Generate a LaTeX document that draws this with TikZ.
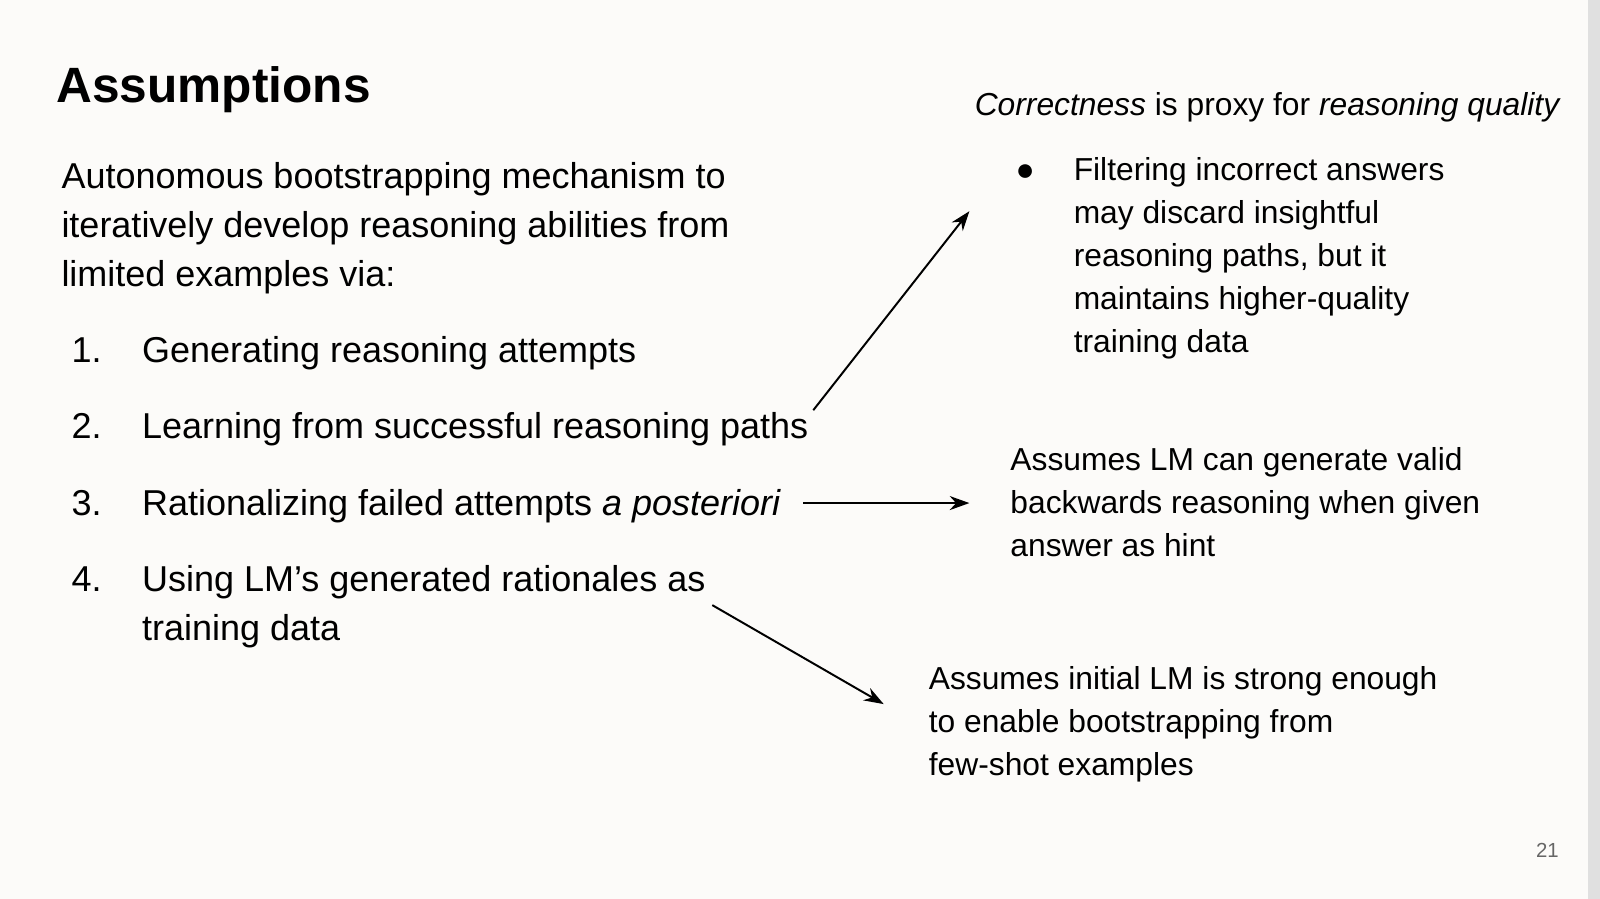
\documentclass[tikz,border=0pt]{standalone}
\usepackage{fontspec}
\setmainfont{Liberation Sans}
\usetikzlibrary{arrows.meta}
\definecolor{slidebg}{HTML}{FCFBF9}
\tikzset{
  txt/.style={anchor=base west, inner sep=0pt},
  body/.style={txt, font=\fontsize{25.6}{31}\selectfont},
  note/.style={txt, font=\fontsize{22.6}{27}\selectfont},
  pointer/.style={-{Stealth[length=14pt,width=10pt]}, line width=1.4pt}
}
\begin{document}
\begin{tikzpicture}[x=0.02551cm, y=-0.02551cm]
\fill[slidebg] (0,0) rectangle (1568,881);
\fill[black!12] (1556,0) rectangle (1568,881);
\useasboundingbox (0,0) rectangle (1568,881);

% title and intro
\node[txt, font=\fontsize{35.3}{40}\selectfont\bfseries] (title) at (55,100) {Assumptions};
\node[body] (intro1) at (60,185) {Autonomous bootstrapping mechanism to};
\node[body] (intro2) at (60,233) {iteratively develop reasoning abilities from};
\node[body] (intro3) at (60,281) {limited examples via:};

% numbered list
\foreach \n/\y/\t in {1/355/Generating reasoning attempts,
                      2/430/Learning from successful reasoning paths,
                      3/505/Rationalizing failed attempts \textit{a posteriori},
                      4/580/Using LM’s generated rationales as} {
  \node[body] (num\n) at (70,\y) {\n.};
  \node[body] (item\n) at (139,\y) {\t};
}
\node[body] (item4b) at (139,628) {training data};

% right notes
\node[note] (head) at (955,113) {\textit{Correctness} is proxy for \textit{reasoning quality}};
\node[note] (dot) at (995,177) {●};
\foreach \i/\y/\t in {1/177/Filtering incorrect answers,
                      2/219/may discard insightful,
                      3/261/{reasoning paths, but it},
                      4/303/maintains higher-quality,
                      5/345/training data} {
  \node[note] (filt\i) at (1052,\y) {\t};
}
\foreach \i/\y/\t in {1/461/Assumes LM can generate valid,
                      2/503/backwards reasoning when given,
                      3/545/answer as hint} {
  \node[note] (back\i) at (990,\y) {\t};
}
\foreach \i/\y/\t in {1/676/Assumes initial LM is strong enough,
                      2/718/to enable bootstrapping from,
                      3/760/few-shot examples} {
  \node[note] (init\i) at (910,\y) {\t};
}
\node[txt, font=\fontsize{14.5}{16}\selectfont, text=black!60] (page) at (1505,840) {21};

% arrows
\coordinate (a1s) at (797,402);
\coordinate (a1e) at (950,207);
\coordinate (a2s) at (787,493);
\coordinate (a2e) at (950,493);
\coordinate (a3s) at (698,593);
\coordinate (a3e) at (866,690);
\draw[pointer] (a1s) -- (a1e);
\draw[pointer] (a2s) -- (a2e);
\draw[pointer] (a3s) -- (a3e);
\end{tikzpicture}
\end{document}
